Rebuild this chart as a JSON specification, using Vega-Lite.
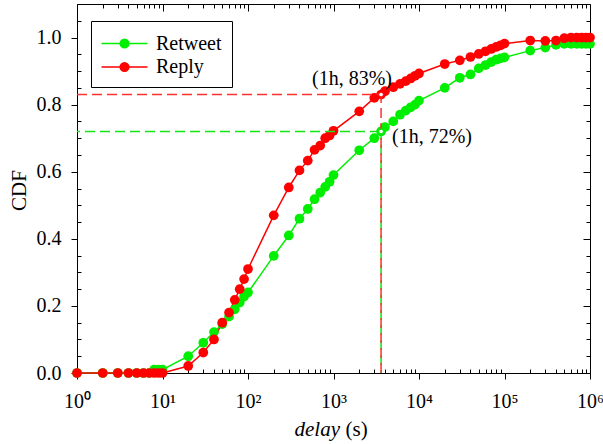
{
  "$schema": "https://vega.github.io/schema/vega-lite/v6.json",
  "width": 513,
  "height": 369,
  "autosize": {"type": "none"},
  "padding": {"left": 77, "top": 4, "right": 13, "bottom": 71},
  "background": "white",
  "config": {
    "view": {"stroke": null},
    "font": "Liberation Serif",
    "axis": {
      "grid": false,
      "domainColor": "black",
      "domainWidth": 1,
      "tickColor": "black",
      "tickWidth": 1,
      "labelColor": "black",
      "titleColor": "black",
      "labelFont": "Liberation Serif",
      "titleFont": "Liberation Serif",
      "labelFontSize": 20,
      "titleFontSize": 21,
      "titleFontWeight": "normal"
    }
  },
  "datasets": {
    "cdf": [
      {"series": "Retweet", "delay": 1, "cdf": 0},
      {"series": "Retweet", "delay": 2, "cdf": 0},
      {"series": "Retweet", "delay": 3, "cdf": 0},
      {"series": "Retweet", "delay": 4, "cdf": 0},
      {"series": "Retweet", "delay": 5, "cdf": 0},
      {"series": "Retweet", "delay": 6, "cdf": 0},
      {"series": "Retweet", "delay": 7, "cdf": 0},
      {"series": "Retweet", "delay": 8, "cdf": 0.01},
      {"series": "Retweet", "delay": 9, "cdf": 0.01},
      {"series": "Retweet", "delay": 10, "cdf": 0.01},
      {"series": "Retweet", "delay": 20, "cdf": 0.05},
      {"series": "Retweet", "delay": 30, "cdf": 0.09},
      {"series": "Retweet", "delay": 40, "cdf": 0.122},
      {"series": "Retweet", "delay": 50, "cdf": 0.146},
      {"series": "Retweet", "delay": 60, "cdf": 0.168},
      {"series": "Retweet", "delay": 70, "cdf": 0.19},
      {"series": "Retweet", "delay": 80, "cdf": 0.21},
      {"series": "Retweet", "delay": 90, "cdf": 0.228},
      {"series": "Retweet", "delay": 100, "cdf": 0.24},
      {"series": "Retweet", "delay": 200, "cdf": 0.349},
      {"series": "Retweet", "delay": 300, "cdf": 0.41},
      {"series": "Retweet", "delay": 400, "cdf": 0.46},
      {"series": "Retweet", "delay": 500, "cdf": 0.489},
      {"series": "Retweet", "delay": 600, "cdf": 0.518},
      {"series": "Retweet", "delay": 700, "cdf": 0.538},
      {"series": "Retweet", "delay": 800, "cdf": 0.555},
      {"series": "Retweet", "delay": 900, "cdf": 0.57},
      {"series": "Retweet", "delay": 1000, "cdf": 0.59},
      {"series": "Retweet", "delay": 2000, "cdf": 0.664},
      {"series": "Retweet", "delay": 3000, "cdf": 0.7},
      {"series": "Retweet", "delay": 3600, "cdf": 0.72},
      {"series": "Retweet", "delay": 4000, "cdf": 0.733},
      {"series": "Retweet", "delay": 5000, "cdf": 0.75},
      {"series": "Retweet", "delay": 6000, "cdf": 0.77},
      {"series": "Retweet", "delay": 7000, "cdf": 0.782},
      {"series": "Retweet", "delay": 8000, "cdf": 0.792},
      {"series": "Retweet", "delay": 9000, "cdf": 0.8},
      {"series": "Retweet", "delay": 10000, "cdf": 0.812},
      {"series": "Retweet", "delay": 20000, "cdf": 0.85},
      {"series": "Retweet", "delay": 30000, "cdf": 0.88},
      {"series": "Retweet", "delay": 40000, "cdf": 0.89},
      {"series": "Retweet", "delay": 50000, "cdf": 0.908},
      {"series": "Retweet", "delay": 60000, "cdf": 0.918},
      {"series": "Retweet", "delay": 70000, "cdf": 0.927},
      {"series": "Retweet", "delay": 80000, "cdf": 0.934},
      {"series": "Retweet", "delay": 90000, "cdf": 0.938},
      {"series": "Retweet", "delay": 100000, "cdf": 0.941},
      {"series": "Retweet", "delay": 200000, "cdf": 0.961},
      {"series": "Retweet", "delay": 300000, "cdf": 0.97},
      {"series": "Retweet", "delay": 400000, "cdf": 0.978},
      {"series": "Retweet", "delay": 500000, "cdf": 0.981},
      {"series": "Retweet", "delay": 600000, "cdf": 0.981},
      {"series": "Retweet", "delay": 700000, "cdf": 0.981},
      {"series": "Retweet", "delay": 800000, "cdf": 0.981},
      {"series": "Retweet", "delay": 900000, "cdf": 0.981},
      {"series": "Retweet", "delay": 1000000, "cdf": 0.981},
      {"series": "Reply", "delay": 1, "cdf": 0},
      {"series": "Reply", "delay": 2, "cdf": 0},
      {"series": "Reply", "delay": 3, "cdf": 0},
      {"series": "Reply", "delay": 4, "cdf": 0},
      {"series": "Reply", "delay": 5, "cdf": 0},
      {"series": "Reply", "delay": 6, "cdf": 0},
      {"series": "Reply", "delay": 7, "cdf": 0},
      {"series": "Reply", "delay": 8, "cdf": 0},
      {"series": "Reply", "delay": 9, "cdf": 0},
      {"series": "Reply", "delay": 10, "cdf": 0},
      {"series": "Reply", "delay": 20, "cdf": 0.021},
      {"series": "Reply", "delay": 30, "cdf": 0.061},
      {"series": "Reply", "delay": 40, "cdf": 0.1},
      {"series": "Reply", "delay": 50, "cdf": 0.15},
      {"series": "Reply", "delay": 60, "cdf": 0.18},
      {"series": "Reply", "delay": 70, "cdf": 0.218},
      {"series": "Reply", "delay": 80, "cdf": 0.25},
      {"series": "Reply", "delay": 90, "cdf": 0.28},
      {"series": "Reply", "delay": 100, "cdf": 0.31},
      {"series": "Reply", "delay": 200, "cdf": 0.47},
      {"series": "Reply", "delay": 300, "cdf": 0.553},
      {"series": "Reply", "delay": 400, "cdf": 0.604},
      {"series": "Reply", "delay": 500, "cdf": 0.633},
      {"series": "Reply", "delay": 600, "cdf": 0.665},
      {"series": "Reply", "delay": 700, "cdf": 0.678},
      {"series": "Reply", "delay": 800, "cdf": 0.7},
      {"series": "Reply", "delay": 900, "cdf": 0.708},
      {"series": "Reply", "delay": 1000, "cdf": 0.722},
      {"series": "Reply", "delay": 2000, "cdf": 0.78},
      {"series": "Reply", "delay": 3000, "cdf": 0.82},
      {"series": "Reply", "delay": 3600, "cdf": 0.83},
      {"series": "Reply", "delay": 4000, "cdf": 0.84},
      {"series": "Reply", "delay": 5000, "cdf": 0.852},
      {"series": "Reply", "delay": 6000, "cdf": 0.862},
      {"series": "Reply", "delay": 7000, "cdf": 0.87},
      {"series": "Reply", "delay": 8000, "cdf": 0.878},
      {"series": "Reply", "delay": 9000, "cdf": 0.886},
      {"series": "Reply", "delay": 10000, "cdf": 0.893},
      {"series": "Reply", "delay": 20000, "cdf": 0.921},
      {"series": "Reply", "delay": 30000, "cdf": 0.932},
      {"series": "Reply", "delay": 40000, "cdf": 0.942},
      {"series": "Reply", "delay": 50000, "cdf": 0.951},
      {"series": "Reply", "delay": 60000, "cdf": 0.959},
      {"series": "Reply", "delay": 70000, "cdf": 0.966},
      {"series": "Reply", "delay": 80000, "cdf": 0.972},
      {"series": "Reply", "delay": 90000, "cdf": 0.977},
      {"series": "Reply", "delay": 100000, "cdf": 0.982},
      {"series": "Reply", "delay": 200000, "cdf": 0.991},
      {"series": "Reply", "delay": 300000, "cdf": 0.99},
      {"series": "Reply", "delay": 400000, "cdf": 0.991},
      {"series": "Reply", "delay": 500000, "cdf": 0.998},
      {"series": "Reply", "delay": 600000, "cdf": 1.0},
      {"series": "Reply", "delay": 700000, "cdf": 1.0},
      {"series": "Reply", "delay": 800000, "cdf": 1.0},
      {"series": "Reply", "delay": 900000, "cdf": 1.0},
      {"series": "Reply", "delay": 1000000, "cdf": 1.0}
    ],
    "guidesGreen": [
      {"x1": 1, "x2": 3600, "y1": 0.72, "y2": 0.72},
      {"x1": 3600, "x2": 3600, "y1": 0, "y2": 0.72}
    ],
    "guidesRed": [
      {"x1": 1, "x2": 3600, "y1": 0.83, "y2": 0.83},
      {"x1": 3600, "x2": 3600, "y1": 0, "y2": 0.83}
    ],
    "marks": [
      {"series": "Retweet", "delay": 3600, "cdf": 0.72},
      {"series": "Reply", "delay": 3600, "cdf": 0.83}
    ],
    "notes": [
      {"label": "(1h, 83%)", "delay": 560, "cdf": 0.876},
      {"label": "(1h, 72%)", "delay": 4840, "cdf": 0.703}
    ]
  },
  "layer": [
    {
      "data": {"name": "cdf"},
      "mark": {"type": "line", "strokeWidth": 1.5},
      "encoding": {
        "x": {
          "field": "delay", "type": "quantitative",
          "scale": {"type": "log", "domain": [1, 1000000], "nice": false},
          "axis": {
            "orient": "bottom",
            "values": [1, 10, 100, 1000, 10000, 100000, 1000000],
            "labelExpr": "'10' + ['⁰','¹','²','³','⁴','⁵','⁶'][round(log(datum.value)/LN10)]",
            "tickSize": 6,
            "labelPadding": 12,
            "labelFlush": false,
            "labelOverlap": false,
            "title": "delay",
            "titleFontStyle": "italic",
            "titleX": 217,
            "titleY": 62,
            "titleAlign": "left",
            "titleBaseline": "alphabetic"
          }
        },
        "y": {
          "field": "cdf", "type": "quantitative",
          "scale": {"domain": [0, 1.1], "nice": false, "zero": false},
          "axis": {
            "orient": "left",
            "values": [0, 0.2, 0.4, 0.6, 0.8, 1.0],
            "format": ".1f",
            "tickSize": 6,
            "labelPadding": 10,
            "labelFlush": false,
            "labelOverlap": false,
            "title": "CDF",
            "titleX": -52,
            "titleY": 186,
            "titleAlign": "center",
            "titleBaseline": "alphabetic",
            "titleAngle": -90
          }
        },
        "color": {
          "field": "series", "type": "nominal",
          "scale": {"domain": ["Retweet", "Reply"], "range": ["#00ee00", "#ff0000"]},
          "legend": {
            "title": null,
            "orient": "none",
            "legendX": 14,
            "legendY": 17,
            "padding": 10,
            "strokeColor": "black",
            "fillColor": "white",
            "symbolType": "M-2,0H2M0.38,0A0.38,0.38,0,1,1,-0.38,0A0.38,0.38,0,1,1,0.38,0Z",
            "symbolSize": 529,
            "symbolStrokeWidth": 1.5,
            "symbolOffset": 11,
            "labelOffset": 19,
            "rowPadding": 0.5,
            "labelFont": "Liberation Serif",
            "labelFontSize": 20,
            "labelColor": "black",
            "encode": {
              "symbols": {
                "update": {
                  "fill": {"scale": "color", "field": "value"},
                  "stroke": {"scale": "color", "field": "value"},
                  "opacity": {"value": 1}
                }
              }
            }
          }
        }
      }
    },
    {
      "data": {"name": "cdf"},
      "mark": {"type": "circle", "size": 95, "opacity": 1},
      "encoding": {
        "x": {
          "field": "delay", "type": "quantitative",
          "scale": {"type": "log", "domain": [1, 1000000], "nice": false},
          "axis": {
            "orient": "bottom",
            "values": [2,3,4,5,6,7,8,9,20,30,40,50,60,70,80,90,200,300,400,500,600,700,800,900,2000,3000,4000,5000,6000,7000,8000,9000,20000,30000,40000,50000,60000,70000,80000,90000,200000,300000,400000,500000,600000,700000,800000,900000],
            "tickSize": -4,
            "labels": false,
            "domain": false,
            "title": "(s)",
            "titleX": 268,
            "titleY": 62,
            "titleAlign": "left",
            "titleBaseline": "alphabetic"
          }
        },
        "y": {
          "field": "cdf", "type": "quantitative",
          "scale": {"domain": [0, 1.1], "nice": false, "zero": false},
          "axis": {
            "orient": "left",
            "values": [0.05,0.1,0.15,0.25,0.3,0.35,0.45,0.5,0.55,0.65,0.7,0.75,0.85,0.9,0.95,1.05],
            "tickSize": -4,
            "labels": false,
            "domain": false,
            "title": null
          }
        },
        "color": {"field": "series", "type": "nominal", "scale": {"domain": ["Retweet", "Reply"], "range": ["#00ee00", "#ff0000"]}}
      }
    },
    {
      "data": {"name": "guidesGreen"},
      "mark": {"type": "rule", "color": "#11e611", "strokeWidth": 1.5, "strokeDash": [10, 5], "strokeDashOffset": 7},
      "encoding": {
        "x": {
          "field": "x1", "type": "quantitative",
          "scale": {"type": "log", "domain": [1, 1000000], "nice": false},
          "axis": {
            "orient": "top",
            "values": [2,3,4,5,6,7,8,9,20,30,40,50,60,70,80,90,200,300,400,500,600,700,800,900,2000,3000,4000,5000,6000,7000,8000,9000,20000,30000,40000,50000,60000,70000,80000,90000,200000,300000,400000,500000,600000,700000,800000,900000],
            "tickSize": -4,
            "labels": false,
            "title": null
          }
        },
        "x2": {"field": "x2"},
        "y": {
          "field": "y1", "type": "quantitative",
          "scale": {"domain": [0, 1.1], "nice": false, "zero": false},
          "axis": {
            "orient": "right",
            "values": [0.05,0.1,0.15,0.25,0.3,0.35,0.45,0.5,0.55,0.65,0.7,0.75,0.85,0.9,0.95,1.05],
            "tickSize": -4,
            "labels": false,
            "title": null
          }
        },
        "y2": {"field": "y2"}
      }
    },
    {
      "data": {"name": "guidesRed"},
      "mark": {"type": "rule", "color": "#ff3030", "strokeWidth": 1.5, "strokeDash": [10, 5]},
      "encoding": {
        "x": {
          "field": "x1", "type": "quantitative",
          "scale": {"type": "log", "domain": [1, 1000000], "nice": false},
          "axis": {
            "orient": "top",
            "values": [1, 10, 100, 1000, 10000, 100000, 1000000],
            "tickSize": -7,
            "labels": false,
            "domain": false,
            "title": null
          }
        },
        "x2": {"field": "x2"},
        "y": {
          "field": "y1", "type": "quantitative",
          "scale": {"domain": [0, 1.1], "nice": false, "zero": false},
          "axis": {
            "orient": "right",
            "values": [0, 0.2, 0.4, 0.6, 0.8, 1.0],
            "tickSize": -7,
            "labels": false,
            "domain": false,
            "title": null
          }
        },
        "y2": {"field": "y2"}
      }
    },
    {
      "data": {"name": "marks"},
      "mark": {"type": "point", "shape": "circle", "size": 22, "filled": false, "fill": "white", "fillOpacity": 1, "strokeWidth": 1, "opacity": 1},
      "encoding": {
        "x": {"field": "delay", "type": "quantitative", "scale": {"type": "log", "domain": [1, 1000000], "nice": false}, "axis": null},
        "y": {"field": "cdf", "type": "quantitative", "scale": {"domain": [0, 1.1], "nice": false, "zero": false}, "axis": null},
        "stroke": {"field": "series", "type": "nominal", "scale": {"domain": ["Retweet", "Reply"], "range": ["#00ee00", "#ff0000"]}, "legend": null}
      }
    },
    {
      "data": {"name": "notes"},
      "mark": {"type": "text", "font": "Liberation Serif", "fontSize": 20, "color": "black", "align": "left", "baseline": "middle"},
      "encoding": {
        "x": {"field": "delay", "type": "quantitative", "scale": {"type": "log", "domain": [1, 1000000], "nice": false}, "axis": null},
        "y": {"field": "cdf", "type": "quantitative", "scale": {"domain": [0, 1.1], "nice": false, "zero": false}, "axis": null},
        "text": {"field": "label"}
      }
    }
  ],
  "resolve": {"axis": {"x": "independent", "y": "independent"}}
}
